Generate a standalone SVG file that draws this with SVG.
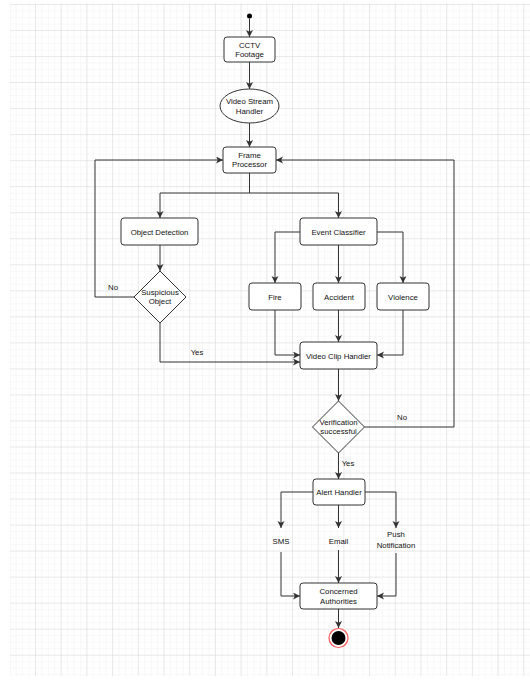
<svg xmlns="http://www.w3.org/2000/svg" width="530" height="680" viewBox="0 0 530 680">
<defs>
<pattern id="minor" patternUnits="userSpaceOnUse" x="9.3" y="4" width="6.425" height="6.5075">
<path d="M0 0 H6.425 M0 0 V6.5075" stroke="#f1f1f1" stroke-width="1" fill="none"/>
</pattern>
<pattern id="major" patternUnits="userSpaceOnUse" x="9.3" y="4" width="25.7" height="26.03">
<path d="M0 0 H25.7 M0 0 V26.03" stroke="#dadada" stroke-width="1" fill="none"/>
</pattern>
<marker id="arr" markerUnits="userSpaceOnUse" markerWidth="8" markerHeight="8" refX="7" refY="3.5" orient="auto">
<path d="M0,0 L7,3.5 L0,7 L1.8,3.5 Z" fill="#333"/>
</marker>
</defs>
<style>
.box{fill:#fff;stroke:#333;stroke-width:1}
.t{font-family:"Liberation Sans",Arial,sans-serif;font-size:7.8px;fill:#111;text-anchor:middle}
.c{fill:none;stroke:#333;stroke-width:1}
</style>
<rect x="0" y="0" width="530" height="680" fill="#fff"/>
<rect x="10" y="3" width="520" height="673" fill="url(#minor)"/>
<rect x="10" y="3" width="520" height="673" fill="url(#major)"/>

<g id="connectors">
<path class="c" d="M249.5 18.5 V37" marker-end="url(#arr)"/>
<path class="c" d="M249.5 62 V89" marker-end="url(#arr)"/>
<path class="c" d="M249.5 123 V147" marker-end="url(#arr)"/>
<path class="c" d="M249.5 173 V193 H160 V218" marker-end="url(#arr)"/>
<path class="c" d="M249.5 193 H338.5 V218" marker-end="url(#arr)"/>
<path class="c" d="M160 245 V271" marker-end="url(#arr)"/>
<path class="c" d="M134 297 H95 V160 H223" marker-end="url(#arr)"/>
<path class="c" d="M160 323 V362 H300" marker-end="url(#arr)"/>
<path class="c" d="M300 232 H275 V283" marker-end="url(#arr)"/>
<path class="c" d="M338.5 245 V283" marker-end="url(#arr)"/>
<path class="c" d="M377 232 H403 V283" marker-end="url(#arr)"/>
<path class="c" d="M275 310 V355 H300" marker-end="url(#arr)"/>
<path class="c" d="M338.5 310 V342" marker-end="url(#arr)"/>
<path class="c" d="M403 310 V355 H377" marker-end="url(#arr)"/>
<path class="c" d="M338.5 369 V401" marker-end="url(#arr)"/>
<path class="c" d="M364.5 427 H454 V160 H276" marker-end="url(#arr)"/>
<path class="c" d="M338.5 453 V479" marker-end="url(#arr)"/>
<path class="c" d="M313 492 H281 V528" marker-end="url(#arr)"/>
<path class="c" d="M338.5 505 V528" marker-end="url(#arr)"/>
<path class="c" d="M365 492 H396 V528" marker-end="url(#arr)"/>
<path class="c" d="M281 552 V596 H300" marker-end="url(#arr)"/>
<path class="c" d="M338.5 550 V583" marker-end="url(#arr)"/>
<path class="c" d="M396 553 V596 H377" marker-end="url(#arr)"/>
<path class="c" d="M338.5 609 V628" marker-end="url(#arr)"/>
<text class="t" x="113" y="290">No</text>
<text class="t" x="197" y="355">Yes</text>
<text class="t" x="402" y="420">No</text>
<text class="t" x="348" y="466">Yes</text>
</g>

<g id="start"><circle cx="249.5" cy="16" r="2.5" fill="#000"/></g>
<g id="cctv"><rect class="box" x="224" y="37" width="51" height="25" rx="3"/><text class="t" x="249.5" y="47.5">CCTV</text><text class="t" x="249.5" y="57">Footage</text></g>
<g id="vsh"><ellipse class="box" cx="249.5" cy="106" rx="29.5" ry="17"/><text class="t" x="249.5" y="104">Video Stream</text><text class="t" x="249.5" y="113.5">Handler</text></g>
<g id="frame"><rect class="box" x="223" y="147" width="53" height="26" rx="3"/><text class="t" x="249.5" y="157.5">Frame</text><text class="t" x="249.5" y="167">Processor</text></g>
<g id="objdet"><rect class="box" x="121" y="218" width="77" height="27" rx="3"/><text class="t" x="159.5" y="234.5">Object Detection</text></g>
<g id="susp"><path class="box" d="M160 271 L186 297 L160 323 L134 297 Z"/><text class="t" x="160" y="295">Suspicious</text><text class="t" x="160" y="304">Object</text></g>
<g id="evclass"><rect class="box" x="300" y="218" width="77" height="27" rx="3"/><text class="t" x="338.5" y="234.5">Event Classifier</text></g>
<g id="fire"><rect class="box" x="249" y="283" width="52" height="27" rx="3"/><text class="t" x="275" y="299.5">Fire</text></g>
<g id="accident"><rect class="box" x="313" y="283" width="52" height="27" rx="3"/><text class="t" x="339" y="299.5">Accident</text></g>
<g id="violence"><rect class="box" x="377" y="283" width="52" height="27" rx="3"/><text class="t" x="403" y="299.5">Violence</text></g>
<g id="vch"><rect class="box" x="300" y="342" width="77" height="27" rx="3"/><text class="t" x="338.5" y="358.5">Video Clip Handler</text></g>
<g id="verif"><path class="box" d="M338.5 401 L364.5 427 L338.5 453 L312.5 427 Z"/><text class="t" x="338.5" y="425">Verification</text><text class="t" x="338.5" y="434">successful</text></g>
<g id="alert"><rect class="box" x="313" y="479" width="52" height="26" rx="3"/><text class="t" x="339" y="495">Alert Handler</text></g>
<g id="sms"><text class="t" x="281" y="544">SMS</text></g>
<g id="email"><text class="t" x="338.5" y="544">Email</text></g>
<g id="push"><text class="t" x="396" y="537">Push</text><text class="t" x="396" y="548">Notification</text></g>
<g id="authorities"><rect class="box" x="300" y="583" width="77" height="26" rx="3"/><text class="t" x="338.5" y="594">Concerned</text><text class="t" x="338.5" y="603.5">Authorities</text></g>
<g id="end"><circle cx="338.5" cy="638" r="9.5" fill="#fff" stroke="#f55" stroke-width="1.2"/><circle cx="338.5" cy="638" r="7" fill="#000"/></g>
</svg>
